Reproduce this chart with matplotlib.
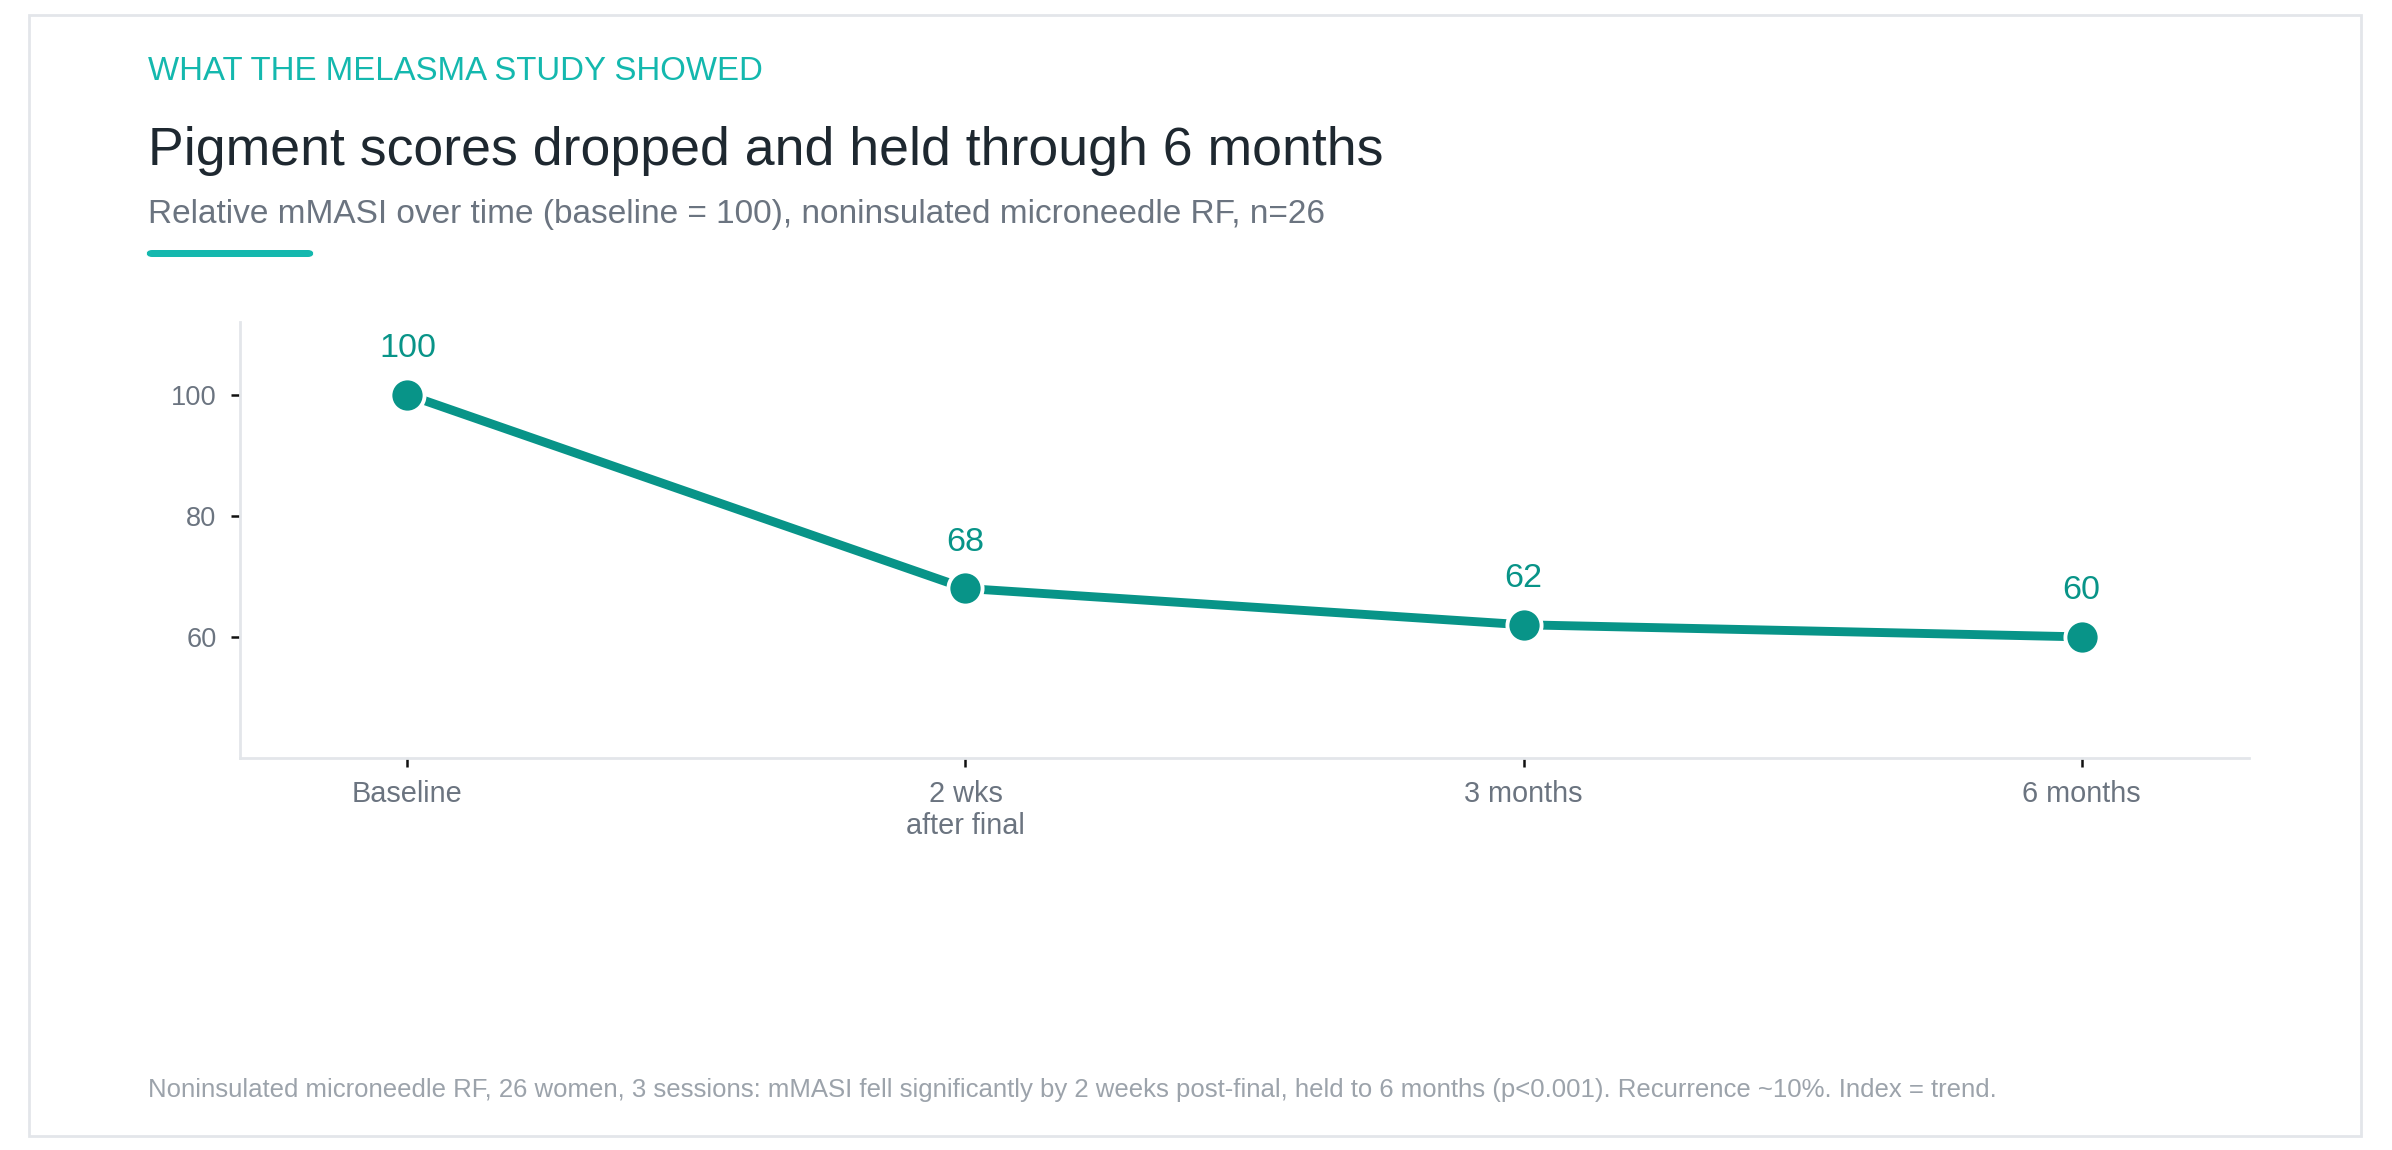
import matplotlib
matplotlib.use("Agg")
import matplotlib.pyplot as plt
from matplotlib.patches import Rectangle, FancyBboxPatch

# ---- data ----
categories = ["Baseline", "2 wks\nafter final", "3 months", "6 months"]
values = [100, 68, 62, 60]
yticks = [60, 80, 100]

eyebrow = "WHAT THE MELASMA STUDY SHOWED"
title = "Pigment scores dropped and held through 6 months"
subtitle = "Relative mMASI over time (baseline = 100), noninsulated microneedle RF, n=26"
footer = ("Noninsulated microneedle RF, 26 women, 3 sessions: mMASI fell significantly by 2 weeks "
          "post-final, held to 6 months (p<0.001). Recurrence ~10%. Index = trend.")

TEAL = "#089488"
EYEBROW = "#14b8ae"
DARK = "#1e2830"
GRAY = "#6b7480"
LIGHT = "#9ca3ab"
SPINE = "#e3e6ea"

plt.rcParams['font.family'] = ['Liberation Sans', 'DejaVu Sans']

W, H = 2392, 1150
DPI = 200
fig = plt.figure(figsize=(W / DPI, H / DPI), dpi=DPI)
fig.patch.set_facecolor("white")

# outer frame
fig.patches.append(Rectangle((29 / W, 1 - 1136 / H), (2361 - 29) / W, (1136 - 15) / H,
                             transform=fig.transFigure, fill=False, edgecolor=SPINE,
                             linewidth=1.0, zorder=0))

# texts
fig.text(148 / W, 1 - 71 / H, eyebrow, color=EYEBROW, fontsize=11.9, va="center", ha="left")
fig.text(148 / W, 1 - 151 / H, title, color=DARK, fontsize=19.3, va="center", ha="left")
fig.text(148 / W, 1 - 214 / H, subtitle, color=GRAY, fontsize=12.0, va="center", ha="left")
fig.patches.append(FancyBboxPatch((146 / W, 1 - 257 / H), (314 - 146) / W, 7 / H,
                                  boxstyle="round,pad=0,rounding_size=0.0025",
                                  transform=fig.transFigure, facecolor=EYEBROW,
                                  edgecolor="none", zorder=1, mutation_aspect=W / H))
fig.text(148 / W, 1 - 1090 / H, footer, color=LIGHT, fontsize=9.25, va="center", ha="left")

# axes
ax = fig.add_axes([240 / W, 1 - 758 / H, (2249 - 240) / W, (758 - 322) / H])
x = list(range(len(categories)))
ax.plot(x, values, color=TEAL, linewidth=3.2, zorder=2, solid_capstyle="butt")
ax.plot(x, values, linestyle="none", marker="o", markersize=12.3, markerfacecolor=TEAL,
        markeredgecolor="white", markeredgewidth=1.4, zorder=3)
for xi, v in zip(x, values):
    ax.annotate(f"{v}", (xi, v), xytext=(0, 11), textcoords="offset points",
                ha="center", va="bottom", color=TEAL, fontsize=12.3)

ax.set_xlim(-0.3, 3.3)
ax.set_ylim(40, 112)
ax.set_xticks(x)
ax.set_xticklabels(categories)
ax.set_yticks(yticks)
for s in ["top", "right"]:
    ax.spines[s].set_visible(False)
for s in ["left", "bottom"]:
    ax.spines[s].set_color(SPINE)
    ax.spines[s].set_linewidth(1.0)
ax.tick_params(axis="both", colors="#111111", labelcolor=GRAY, length=3.4, width=0.9,
               labelsize=9.8)
ax.tick_params(axis="x", pad=4.5, labelsize=10.4)
ax.tick_params(axis="y", pad=5)
ax.set_facecolor("white")

fig.savefig("out.png", dpi=DPI, facecolor="white")
